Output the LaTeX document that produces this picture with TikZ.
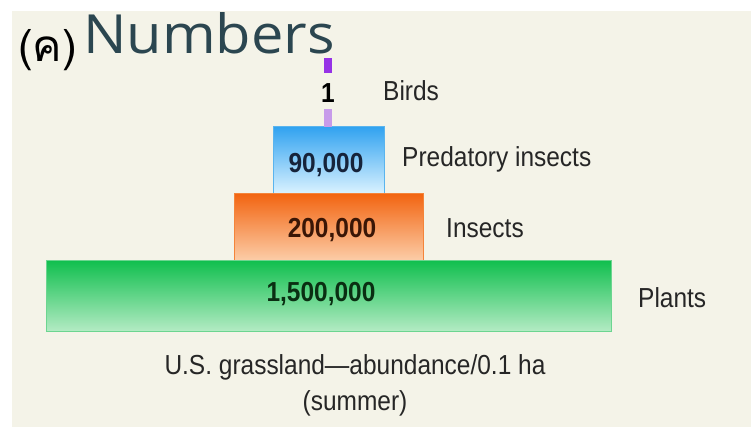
\documentclass[tikz,border=0pt]{standalone}
\usepackage{fontspec}
\setmainfont{Liberation Sans}[FakeStretch=0.89]
\newfontfamily\thaifont[Script=Thai]{Loma}
\newfontfamily\titlefont{Open Sans}[FakeStretch=1.07]
\definecolor{cream}{HTML}{F4F3E8}
\definecolor{bluetop}{HTML}{30A2F0}
\definecolor{bluemid}{HTML}{7CC6F6}
\definecolor{bluebot}{HTML}{DAF2FF}
\definecolor{blueedge}{HTML}{5AB4EE}
\definecolor{orangetop}{HTML}{F26410}
\definecolor{orangemid}{HTML}{F6904E}
\definecolor{orangebot}{HTML}{FCCDA8}
\definecolor{orangeedge}{HTML}{F4843A}
\definecolor{greentop}{HTML}{10BF4E}
\definecolor{greenmid}{HTML}{22C45C}
\definecolor{greenbot}{HTML}{B4EBC4}
\definecolor{greenedge}{HTML}{6CD590}
\definecolor{purpletop}{HTML}{9632E6}
\definecolor{purplebot}{HTML}{C79BEA}
\definecolor{labelgray}{HTML}{262626}
\definecolor{titlecol}{HTML}{2B4650}
\definecolor{numblue}{HTML}{16233A}
\definecolor{numbrown}{HTML}{3A1606}
\definecolor{numgreen}{HTML}{0A2E12}
\begin{document}
\begin{tikzpicture}[x=1pt,y=-1pt,
  lbl/.style={inner sep=0pt, anchor=base west, text=labelgray, font=\fontsize{27.5}{30}\selectfont},
  captxt/.style={inner sep=0pt, anchor=base, text=labelgray, font=\fontsize{27.5}{30}\selectfont},
  num/.style={inner sep=0pt, anchor=base, font=\fontsize{27.5}{30}\selectfont\bfseries},
  tier/.style={inner sep=0pt, anchor=north west, line width=0.8pt},
  bar/.style={inner sep=0pt, anchor=north west, minimum width=8pt}]
\fill[white] (0,0) rectangle (751,432);
\useasboundingbox (0,0) rectangle (751,432);
\fill[cream] (12,11) rectangle (751,427);
% tiers
\node[tier, draw=blueedge, top color=bluetop, middle color=bluemid, bottom color=bluebot,
      minimum width=111pt, minimum height=67pt] (pred) at (273,126) {};
\node[tier, draw=orangeedge, top color=orangetop, middle color=orangemid, bottom color=orangebot,
      minimum width=189pt, minimum height=67pt] (ins) at (234,193) {};
\node[tier, draw=greenedge, top color=greentop, middle color=greenmid, bottom color=greenbot,
      minimum width=565pt, minimum height=71pt] (plants) at (46,260) {};
% bird bar
\node[bar, fill=purpletop, minimum height=15pt] (birdtop) at (324,58) {};
\node[bar, fill=purplebot, minimum height=18pt] (birdbot) at (324,109) {};
% numbers
\node[num, text=black] (n1) at (328,102) {1};
\node[num, text=numblue] (n90) at (326,172) {90,000};
\node[num, text=numbrown] (n200) at (332,237) {200,000};
\node[num, text=numgreen] (n15) at (321,301) {1,500,000};
% labels
\node[lbl] (lbirds) at (383,100) {Birds};
\node[lbl] (lpred) at (402,166) {Predatory insects};
\node[lbl] (lins) at (446,237) {Insects};
\node[lbl] (lplants) at (638,307) {Plants};
% caption
\node[captxt] (cap1) at (355,374) {U.S. grassland—abundance/0.1 ha};
\node[captxt] (cap2) at (355,410) {(summer)};
% title
\node[inner sep=0pt, anchor=base west, text=black, font=\thaifont\fontsize{44}{48}\selectfont] (tag) at (18,61) {(ค)};
\node[inner sep=0pt, anchor=base west, text=titlecol, font=\titlefont\fontsize{54}{60}\selectfont] (title) at (83,53) {Numbers};
\end{tikzpicture}
\end{document}
